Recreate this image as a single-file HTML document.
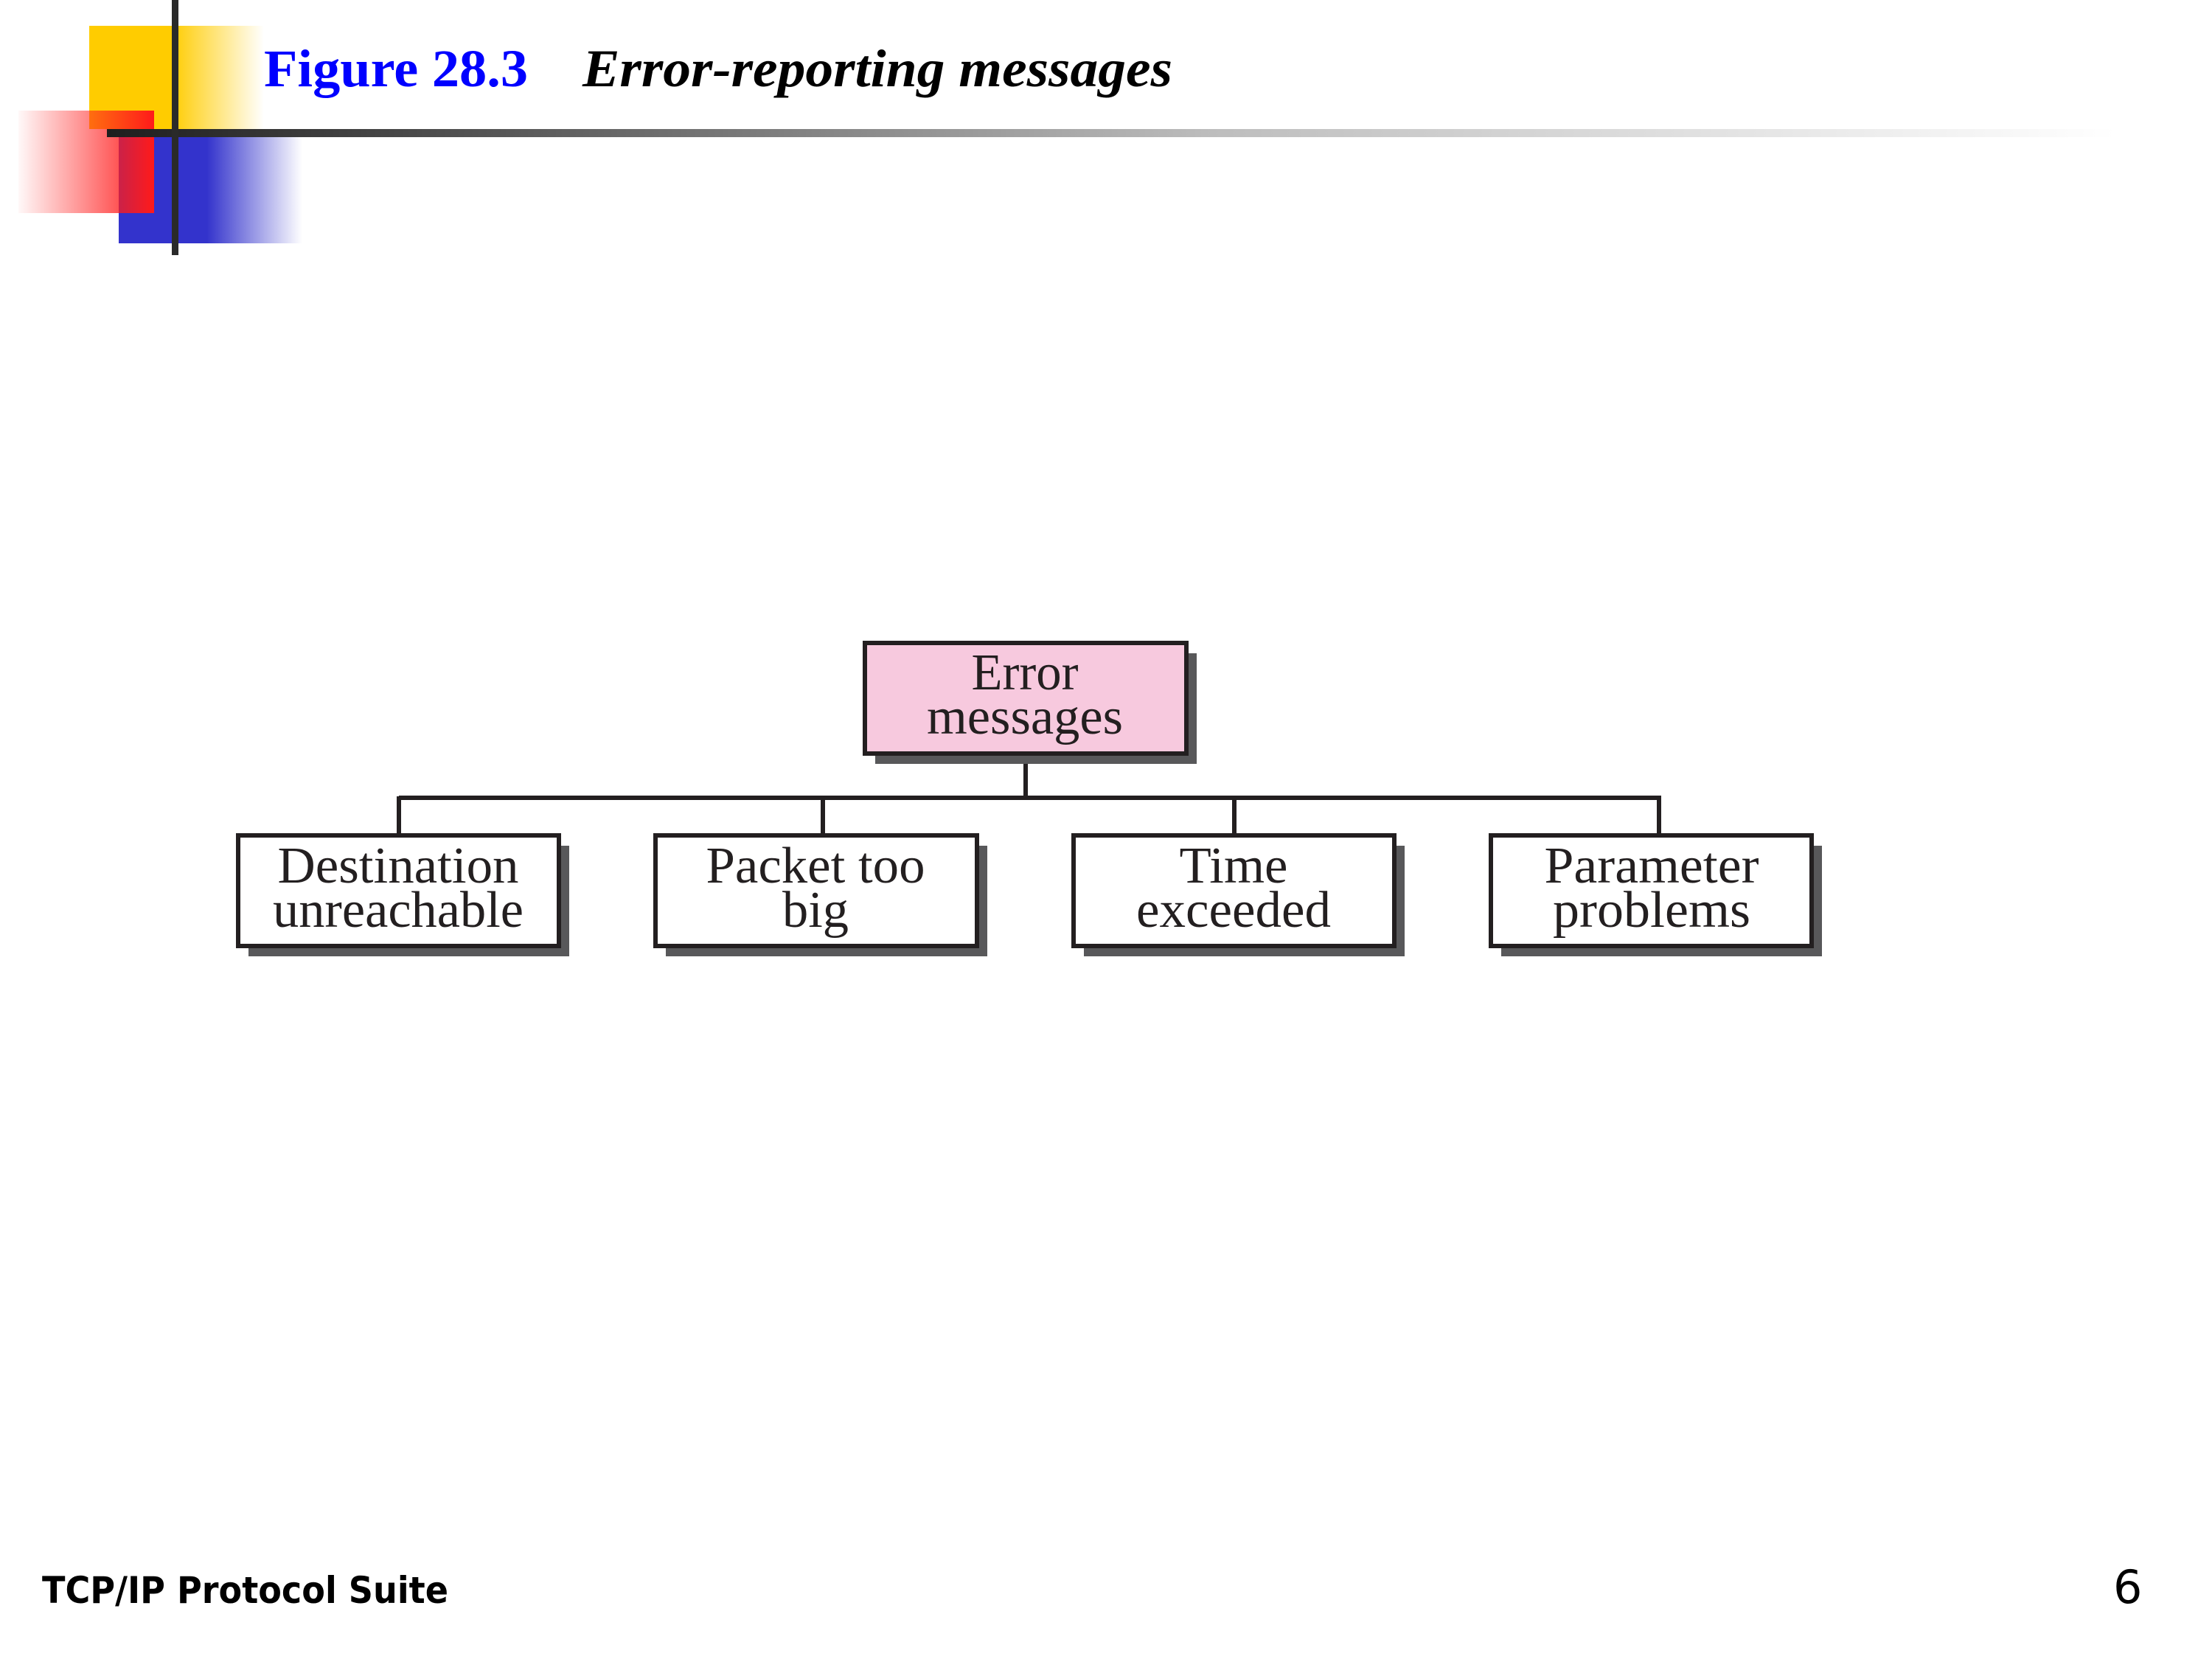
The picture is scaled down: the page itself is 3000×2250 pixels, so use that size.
<!DOCTYPE html>
<html><head><meta charset="utf-8"><style>
html,body{margin:0;padding:0;background:#fff;}
svg{display:block;}
</style></head><body>
<svg width="3000" height="2250" viewBox="0 0 3000 2250" xmlns="http://www.w3.org/2000/svg">
<defs>
<linearGradient id="gy" x1="0" x2="1" y1="0" y2="0">
<stop offset="0" stop-color="#ffcc00"/><stop offset="0.47" stop-color="#ffcc00"/><stop offset="1" stop-color="#ffcc00" stop-opacity="0"/></linearGradient>
<linearGradient id="gb" x1="0" x2="1" y1="0" y2="0">
<stop offset="0" stop-color="#3333cc"/><stop offset="0.48" stop-color="#3333cc"/><stop offset="1" stop-color="#3333cc" stop-opacity="0"/></linearGradient>
<linearGradient id="gr" x1="0" x2="1" y1="0" y2="0">
<stop offset="0" stop-color="#ff2020" stop-opacity="0.03"/><stop offset="1" stop-color="#ff1a1a"/></linearGradient>
<linearGradient id="gh" x1="0" x2="1" y1="0" y2="0">
<stop offset="0" stop-color="#1e1e1e"/><stop offset="0.55" stop-color="#bdbdbd"/><stop offset="1" stop-color="#ffffff"/></linearGradient>
</defs>
<rect x="121" y="35" width="237" height="140" fill="url(#gy)"/>
<rect x="161" y="175" width="249" height="155" fill="url(#gb)"/>
<rect x="25" y="150" width="184" height="139" fill="url(#gr)"/>
<rect x="145" y="175" width="2725" height="11" fill="url(#gh)"/>
<rect x="233" y="0" width="9" height="346" fill="#2a2a2a"/>
<text x="358" y="117" font-family="Liberation Serif, serif" font-weight="bold" font-size="72" fill="#0000ff" textLength="358" lengthAdjust="spacingAndGlyphs">Figure 28.3</text>
<text x="790" y="117" font-family="Liberation Serif, serif" font-weight="bold" font-style="italic" font-size="72" fill="#000" textLength="800" lengthAdjust="spacingAndGlyphs">Error-reporting messages</text>

<g stroke="#231f20" stroke-width="6" fill="none">
<line x1="1391" y1="1022" x2="1391" y2="1082"/>
<line x1="541" y1="1082" x2="2253" y2="1082"/>
<line x1="541" y1="1080" x2="541" y2="1133"/>
<line x1="1116" y1="1080" x2="1116" y2="1133"/>
<line x1="1674" y1="1080" x2="1674" y2="1133"/>
<line x1="2250" y1="1080" x2="2250" y2="1133"/>
</g>
<g fill="#58585a">
<rect x="1187" y="886" width="436" height="150"/>
<rect x="337" y="1147" width="435" height="150"/>
<rect x="903" y="1147" width="436" height="150"/>
<rect x="1470" y="1147" width="435" height="150"/>
<rect x="2036" y="1147" width="435" height="150"/>
</g>
<g stroke="#231f20" stroke-width="6">
<rect x="1173" y="872" width="436" height="150" fill="#f7c9de"/>
<rect x="323" y="1133" width="435" height="150" fill="#fff"/>
<rect x="889" y="1133" width="436" height="150" fill="#fff"/>
<rect x="1456" y="1133" width="435" height="150" fill="#fff"/>
<rect x="2022" y="1133" width="435" height="150" fill="#fff"/>
</g>
<g font-family="Liberation Serif, serif" font-size="70" fill="#231f20" text-anchor="middle">
<text x="1390" y="935" textLength="145" lengthAdjust="spacingAndGlyphs">Error</text>
<text x="1390" y="995" textLength="266" lengthAdjust="spacingAndGlyphs">messages</text>
<text x="540" y="1197" textLength="327" lengthAdjust="spacingAndGlyphs">Destination</text>
<text x="540" y="1257" textLength="340" lengthAdjust="spacingAndGlyphs">unreachable</text>
<text x="1106" y="1197" textLength="297" lengthAdjust="spacingAndGlyphs">Packet too</text>
<text x="1106" y="1257" textLength="90" lengthAdjust="spacingAndGlyphs">big</text>
<text x="1673" y="1197" textLength="147" lengthAdjust="spacingAndGlyphs">Time</text>
<text x="1673" y="1257" textLength="264" lengthAdjust="spacingAndGlyphs">exceeded</text>
<text x="2240" y="1197" textLength="291" lengthAdjust="spacingAndGlyphs">Parameter</text>
<text x="2240" y="1257" textLength="268" lengthAdjust="spacingAndGlyphs">problems</text>
</g>
<text x="57" y="2174" font-family="DejaVu Sans, sans-serif" font-weight="bold" font-size="50" fill="#000" textLength="551" lengthAdjust="spacingAndGlyphs">TCP/IP Protocol Suite</text>
<text x="2866" y="2174" font-family="DejaVu Sans, sans-serif" font-size="62" fill="#000">6</text>
</svg>
</body></html>
